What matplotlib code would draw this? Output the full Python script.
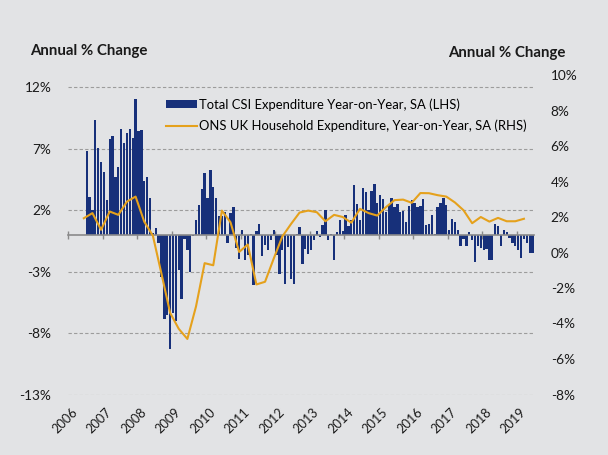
import numpy as np
import pandas as pd
import matplotlib.pyplot as plt
from matplotlib.patches import Patch
from matplotlib.lines import Line2D

plt.rcParams['font.family'] = ['Lato', 'DejaVu Sans']

# Monthly CSI expenditure, year-on-year % (LHS), Jul 2006 - Jun 2019
csi_start = '2006-07'
csi_values = [
    6.85, 3.1, 2.05, 9.3, 7.07, 5.96, 5.14, 2.86, 7.8, 8.07,
    4.68, 5.55, 8.6, 7.48, 8.26, 8.6, 7.85, 11.06, 8.48, 8.53,
    4.41, 4.68, 2.97, 0.13, 0.53, -0.69, -3.46, -6.85, -6.57, -9.29,
    -6.38, -7.0, -2.9, -5.2, -0.35, -1.25, -3.0, -0.1, 1.2, 2.45,
    3.7, 5.05, 3.0, 5.3, 3.85, 3.0, 1.5, 1.5, 1.85, -0.68,
    1.76, 2.25, -1.06, -1.95, 0.35, -2.09, -1.68, 0.08, -4.12, 0.27,
    0.9, -1.75, -0.8, -1.27, -0.46, 0.35, -1.68, -3.17, -1.27, -4.0,
    -1.0, -3.58, -4.0, 0.08, 0.62, -2.36, -1.14, -1.55, -1.27, -0.46,
    0.3, -0.19, 0.76, 2.03, -0.4, 0.08, -2.09, 0.19, 1.2, 0.3,
    1.6, 0.7, 1.2, 4.07, 2.5, 1.2, 3.8, 3.47, 2.0, 3.55,
    4.15, 2.55, 3.2, 2.93, 1.85, 2.42, 2.95, 2.28, 2.47, 1.84,
    1.93, 1.05, 2.3, 2.85, 2.55, 2.22, 2.3, 2.93, 0.76, 0.84,
    1.64, 0.08, 2.28, 2.55, 3.0, 2.44, 0.4, 1.3, 1.0, 0.35,
    -0.95, -0.33, -0.9, 0.19, -0.4, -2.22, -0.95, -1.06, -1.27, -1.14,
    -2.09, -2.09, 0.84, 0.68, -0.95, 0.35, 0.19, -0.27, -0.68, -0.95,
    -1.27, -1.87, -0.33, -0.68, -1.46, -1.46,
]

# Quarterly ONS household expenditure, year-on-year % (RHS), 2006Q2 - 2019Q1
ons_start = '2006Q2'
ons_values = [
    1.93, 2.22, 1.28, 2.31, 2.12, 2.87, 3.15, 1.74, 0.95, -1.2,
    -3.4, -4.3, -4.87, -3.04, -0.6, -0.72, 2.36, 1.7, 0.03, 0.45,
    -1.8, -1.65, -0.35, 0.9, 1.6, 2.25, 2.36, 2.27, 1.76, 2.12,
    2.0, 1.68, 2.46, 2.22, 2.08, 2.55, 2.95, 2.98, 2.8, 3.35,
    3.34, 3.23, 3.15, 2.82, 2.38, 1.65, 2.0, 1.74, 1.95, 1.76,
    1.76, 1.9,
]

years = list(range(2006, 2020))
left_ticks = [-13, -8, -3, 2, 7, 12]
right_ticks = list(range(-8, 11, 2))

bg = '#e2e3e5'
navy = '#17307a'
gold = '#e5a11c'
grey = '#8a8a8a'
txt = '#1a1a1a'

months = pd.period_range(csi_start, periods=len(csi_values), freq='M')
bar_x = (months.year - 2006) * 12 + months.month - 1
quarters = pd.period_range(ons_start, periods=len(ons_values), freq='Q')
line_x = (quarters.year - 2006) * 12 + quarters.quarter * 3 - 1

fig = plt.figure(figsize=(6.08, 4.55), dpi=100, facecolor=bg)
ax = fig.add_axes([68 / 608, 1 - 394.5 / 455, 466 / 608, 319.5 / 455])
ax.set_facecolor(bg)

ax.bar(bar_x, csi_values, width=0.8, color=navy, zorder=2)
ax.set_xlim(-0.5, 161.5)
ax.set_ylim(-13, 13)
ax.set_yticks(left_ticks)
ax.set_yticklabels([f'{t}%' for t in left_ticks])
ax.yaxis.grid(True, color='#9c9c9c', linestyle=(0, (3, 2)), linewidth=0.8)
ax.set_axisbelow(True)

for s in ['left', 'right', 'top']:
    ax.spines[s].set_visible(False)
ax.spines['bottom'].set_position(('data', 0))
ax.spines['bottom'].set_color(grey)
ax.spines['bottom'].set_linewidth(1.2)
ax.spines['bottom'].set_zorder(3)
tick_pos = [(y - 2006) * 12 - 0.5 for y in years]
ax.set_xticks(tick_pos)
ax.tick_params(axis='x', direction='inout', length=6, width=1, color=grey,
               labelbottom=False)
ax.tick_params(axis='y', length=0, pad=12, labelsize=9.8, colors=txt)

# year labels hanging below the plot
for y, p in zip(years, tick_pos):
    ax.text(p + 2.5, -0.05, str(y), transform=ax.get_xaxis_transform(),
            rotation=45, rotation_mode='anchor', ha='right', va='center',
            fontsize=9.2, color=txt)

ax2 = ax.twinx()
ax2.plot(line_x, ons_values, color=gold, linewidth=1.5, zorder=4)
ax2.set_ylim(-8, 10)
ax2.set_yticks(right_ticks)
ax2.set_yticklabels([f'{t}%' for t in right_ticks])
ax2.tick_params(axis='y', length=0, pad=12, labelsize=9.8, colors=txt)
for s in ax2.spines.values():
    s.set_visible(False)

fig.text(30 / 608, 1 - 51 / 455, 'Annual % Change', fontsize=10.8, fontweight='bold',
         ha='left', va='center', color=txt)
fig.text(565 / 608, 1 - 53 / 455, 'Annual % Change', fontsize=10.8, fontweight='bold',
         ha='right', va='center', color=txt)

handles = [Patch(facecolor=navy, edgecolor='none'),
           Line2D([], [], color=gold, linewidth=1.5)]
labels = ['Total CSI Expenditure Year-on-Year, SA (LHS)',
          'ONS UK Household Expenditure, Year-on-Year, SA (RHS)']
ax2.legend(handles, labels, loc='upper left', bbox_to_anchor=(0.21, 0.928),
           frameon=False, fontsize=9.35, handlelength=2.4, handleheight=0.55,
           handletextpad=0.15, labelspacing=0.7, borderaxespad=0, borderpad=0)

fig.savefig('out.png', dpi=100, facecolor=bg)
